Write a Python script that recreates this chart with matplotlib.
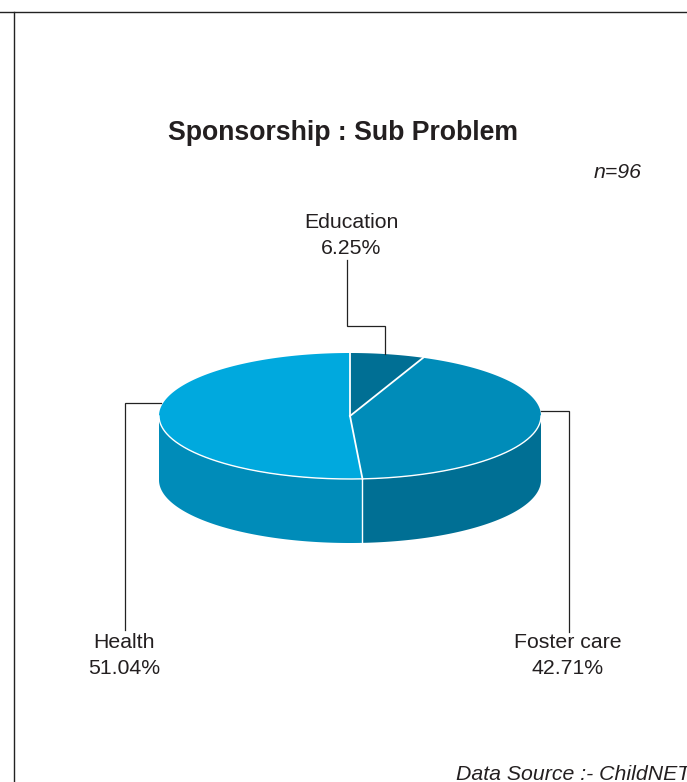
import numpy as np
import matplotlib
matplotlib.use("Agg")
import matplotlib.pyplot as plt
from matplotlib.patches import Polygon

plt.rcParams['font.family'] = ['Liberation Sans', 'DejaVu Sans']

labels = ["Education", "Foster care", "Health"]
shares = [6.25, 42.71, 51.04]
top_colors = ["#006f94", "#008cb9", "#00a9de"]
side_colors = [None, "#006f94", "#008cb9"]

W, H = 687, 782
cx, cy, rx, ry, depth = 350, 416, 191, 63, 64

def rim(a0, a1):
    # angles in degrees, clockwise from twelve o'clock
    t = np.radians(np.linspace(a0, a1, 200))
    return cx + rx * np.sin(t), cy - ry * np.cos(t)

def main():
    fig = plt.figure(figsize=(W / 100, H / 100), dpi=100)
    ax = fig.add_axes([0, 0, 1, 1])
    ax.set_xlim(0, W)
    ax.set_ylim(H, 0)
    ax.axis("off")

    # page frame
    ax.plot([0, W], [12, 12], color="#222222", lw=1.0)
    ax.plot([14, 14], [12, H], color="#222222", lw=1.0)

    edges = np.concatenate([[0], np.cumsum(shares)]) * 360 / sum(shares)

    # side walls first, only the part of the rim facing the viewer
    for i in range(len(shares)):
        a0 = max(edges[i], 90)
        a1 = min(edges[i + 1], 270)
        if a1 <= a0 or side_colors[i] is None:
            continue
        x, y = rim(a0, a1)
        pts = np.vstack([np.column_stack([x, y]), np.column_stack([x, y + depth])[::-1]])
        ax.add_patch(Polygon(pts, closed=True, facecolor=side_colors[i], edgecolor="none"))

    # wall seam
    x, y = rim(edges[2], edges[2])
    ax.plot([x[0], x[0]], [y[0], y[0] + depth], color="white", lw=1.0)

    # top face
    for i in range(len(shares)):
        x, y = rim(edges[i], edges[i + 1])
        pts = np.vstack([[cx, cy], np.column_stack([x, y])])
        ax.add_patch(Polygon(pts, closed=True, facecolor=top_colors[i], edgecolor="none"))
    for a in edges[:-1]:
        x, y = rim(a, a)
        ax.plot([cx, x[0]], [cy, y[0]], color="white", lw=1.3)
    x, y = rim(90, 270)
    ax.plot(x, y, color="white", lw=1.0)

    # leader lines
    line = dict(color="#222222", lw=0.9, solid_joinstyle="miter")
    ax.plot([347, 347, 385, 385], [260, 326, 326, 354], **line)
    ax.plot([161, 125, 125], [403, 403, 630], **line)
    ax.plot([541, 569, 569], [411, 411, 632], **line)

    # text
    ink = "#231f20"
    ax.text(343.5, 132.5, "Sponsorship : Sub Problem", ha="center", va="center",
            fontsize=19.2, fontweight="bold", color=ink)
    ax.text(642, 172.5, "n=96", ha="right", va="center", fontsize=15.3, style="italic", color=ink)
    spots = [(351, 223), (568, 643), (124, 643)]
    for name, val, (tx, ty) in zip(labels, shares, spots):
        ax.text(tx, ty, name, ha="center", va="center", fontsize=15.3, color=ink)
        ax.text(tx, ty + 26, "%.2f%%" % val, ha="center", va="center", fontsize=15.3, color=ink)
    ax.text(456, 775, "Data Source :- ChildNET", ha="left", va="center", fontsize=15.3,
            style="italic", color=ink, clip_on=False)

    fig.savefig("out.png", dpi=100)

if __name__ == "__main__":
    main()
